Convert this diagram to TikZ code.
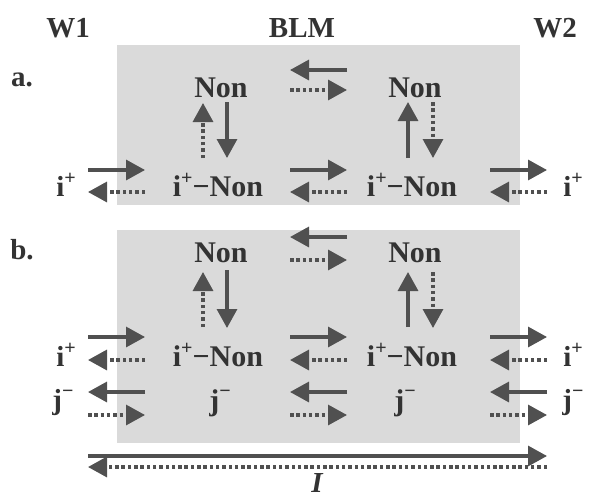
\documentclass[tikz,border=0pt]{standalone}
\usepackage{fontspec}
\setmainfont{Liberation Serif}
\usetikzlibrary{arrows.meta}
\definecolor{arrgray}{HTML}{505050}
\definecolor{txtgray}{HTML}{333333}
\definecolor{boxgray}{HTML}{DADADA}
\newcommand{\supp}{\raisebox{0.42em}{\fontsize{20}{20}\selectfont +}}
\newcommand{\supm}{\raisebox{0.42em}{\fontsize{20}{20}\selectfont −}}
\begin{document}
\begin{tikzpicture}[x=1pt,y=-1pt,
  solarr/.style={draw=arrgray, line width=3.2pt, -{Triangle[length=19pt,width=20pt,fill=arrgray]}},
  dotarr/.style={draw=arrgray, line width=3.2pt, dash pattern=on 3.5pt off 2.8pt, -{Triangle[length=19pt,width=20pt,fill=arrgray]}},
  hdr/.style={text=txtgray, inner sep=0pt, font=\bfseries\fontsize{29}{32}\selectfont},
  lbl/.style={text=txtgray, inner sep=0pt, font=\bfseries\fontsize{30}{32}\selectfont},
  ion/.style={text=txtgray, inner sep=0pt, font=\bfseries\fontsize{29}{30}\selectfont}]
\useasboundingbox (0,0) rectangle (591,498);
% membranes
\fill[boxgray] (117,45) rectangle (520,205);
\fill[boxgray] (117,230) rectangle (520,443);
% headers
\node[hdr] (w1) at (68,28) {W1};
\node[hdr] (blm) at (302,28) {BLM};
\node[hdr] (w2) at (555,28) {W2};
\node[hdr] (pa) at (22,80) {a.};
\node[hdr] (pb) at (22,250) {b.};
% panel a labels
\node[lbl] (na1) at (221,88) {Non};
\node[lbl] (na2) at (415,88) {Non};
\node[lbl] (ca1) at (218,185) {i\supp−Non};
\node[lbl] (ca2) at (412,185) {i\supp−Non};
\node[ion] (ia1) at (66,185) {i\supp};
\node[ion] (ia2) at (573,185) {i\supp};
% panel a arrows
\draw[solarr] (88,170) -- (145,170);
\draw[dotarr] (145,192) -- (88,192);
\draw[solarr] (347,70) -- (290,70);
\draw[dotarr] (290,90) -- (347,90);
\draw[solarr] (290,170) -- (347,170);
\draw[dotarr] (347,192) -- (290,192);
\draw[solarr] (490,170) -- (547,170);
\draw[dotarr] (547,192) -- (490,192);
\draw[dotarr] (203,158) -- (203,103);
\draw[solarr] (227,102) -- (227,158);
\draw[solarr] (408,158) -- (408,102);
\draw[dotarr] (433,102) -- (433,158);
% panel b labels
\node[lbl] (nb1) at (221,253) {Non};
\node[lbl] (nb2) at (415,253) {Non};
\node[lbl] (cb1) at (218,355) {i\supp−Non};
\node[lbl] (cb2) at (412,355) {i\supp−Non};
\node[ion] (ib1) at (66,355) {i\supp};
\node[ion] (ib2) at (573,355) {i\supp};
\node[ion] (jb1) at (63,403) {j\supm};
\node[lbl] (jb2) at (220,403) {j\supm};
\node[lbl] (jb3) at (405,403) {j\supm};
\node[ion] (jb4) at (573,403) {j\supm};
% panel b arrows
\draw[solarr] (347,237) -- (290,237);
\draw[dotarr] (290,260) -- (347,260);
\draw[dotarr] (203,327) -- (203,272);
\draw[solarr] (227,270) -- (227,328);
\draw[solarr] (408,327) -- (408,272);
\draw[dotarr] (433,272) -- (433,328);
\draw[solarr] (88,337) -- (145,337);
\draw[dotarr] (145,360) -- (88,360);
\draw[solarr] (290,337) -- (347,337);
\draw[dotarr] (347,360) -- (290,360);
\draw[solarr] (490,337) -- (547,337);
\draw[dotarr] (547,360) -- (490,360);
\draw[solarr] (145,392) -- (88,392);
\draw[dotarr] (88,415) -- (145,415);
\draw[solarr] (347,392) -- (290,392);
\draw[dotarr] (290,415) -- (347,415);
\draw[solarr] (547,392) -- (490,392);
\draw[dotarr] (490,415) -- (547,415);
% current
\draw[solarr] (88,456) -- (547,456);
\draw[dotarr] (547,467) -- (88,467);
\node[hdr] (cur) at (317,483) {\itshape I};
\end{tikzpicture}
\end{document}
